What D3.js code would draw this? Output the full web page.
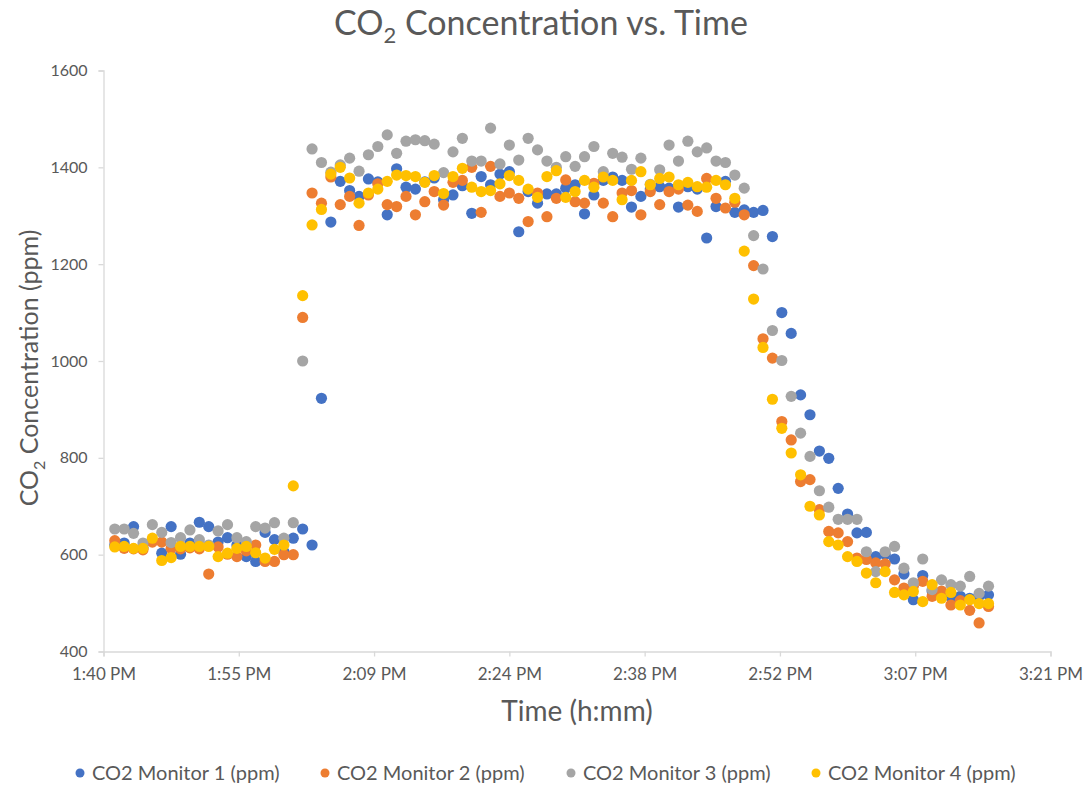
<!DOCTYPE html>
<html>
<head>
<meta charset="utf-8">
<script src="https://cdn.jsdelivr.net/npm/d3@7"></script>
<style>
  html, body { margin: 0; padding: 0; background: #ffffff; }
  svg { display: block; font-family: Lato, "Open Sans", sans-serif; }
</style>
</head>
<body>
<svg id="chart" width="1089" height="789"></svg>
<script>
// Sample clock times (one reading per minute)
const sampleTimes = [
  "13:42","13:43","13:44","13:45","13:46","13:47","13:48","13:49","13:50","13:51",
  "13:52","13:53","13:54","13:55","13:56","13:57","13:58","13:59","14:00","14:01",
  "14:02","14:03","14:04","14:05","14:06","14:07","14:08","14:09","14:10","14:11",
  "14:12","14:13","14:14","14:15","14:16","14:17","14:18","14:19","14:20","14:21",
  "14:22","14:23","14:24","14:25","14:26","14:27","14:28","14:29","14:30","14:31",
  "14:32","14:33","14:34","14:35","14:36","14:37","14:38","14:39","14:40","14:41",
  "14:42","14:43","14:44","14:45","14:46","14:47","14:48","14:49","14:50","14:51",
  "14:52","14:53","14:54","14:55","14:56","14:57","14:58","14:59","15:00","15:01",
  "15:02","15:03","15:04","15:05","15:06","15:07","15:08","15:09","15:10","15:11",
  "15:12","15:13","15:14","15:15"
];

// CO2 readings (ppm) per monitor
const monitor1 = [
  620,624,658,615,628,603,658,601,624,667, 658,626,635,620,596,586,646,631,606,634,
  653,620,923,1287,1371,1352,1340,1376,1370,1302, 1397,1359,1355,1370,1378,1333,1343,1362,1305,1381,
  1364,1386,1391,1267,1350,1326,1345,1345,1357,1364, 1304,1343,1373,1380,1373,1318,1340,1355,1360,1357,
  1318,1360,1355,1254,1319,1371,1307,1312,1307,1311, 1257,1100,1057,930,889,814,799,737,684,645,
  646,596,601,591,560,507,557,525,521,512, 514,510,514,517
];
const monitor2 = [
  629,613,612,610,626,626,613,612,614,612, 560,616,601,596,608,620,586,586,600,600,
  1090,1347,1326,1380,1323,1340,1280,1343,1366,1323, 1319,1340,1302,1329,1350,1322,1369,1373,1400,1307,
  1402,1340,1347,1336,1288,1347,1298,1336,1374,1329, 1326,1367,1326,1298,1347,1352,1302,1350,1323,1350,
  1355,1322,1309,1377,1336,1316,1328,1302,1197,1046, 1006,875,837,751,755,693,648,645,627,593,
  590,583,581,548,531,535,545,514,525,496, 505,485,459,493
];
const monitor3 = [
  653,653,644,624,662,646,625,635,651,631, 620,649,662,635,627,658,655,666,634,666,
  1000,1438,1410,1390,1405,1419,1392,1426,1443,1467, 1429,1454,1457,1455,1448,1389,1432,1460,1413,1413,
  1481,1407,1446,1415,1460,1436,1413,1400,1422,1402, 1422,1443,1391,1429,1421,1396,1419,1365,1395,1446,
  1413,1454,1432,1440,1413,1410,1384,1357,1259,1190, 1063,1001,927,851,803,732,698,673,673,673,
  606,565,606,617,572,542,591,528,548,538, 535,555,520,535
];
const monitor4 = [
  616,617,613,613,634,588,594,617,617,617, 617,596,603,613,617,604,593,611,620,742,
  1135,1281,1313,1386,1400,1378,1326,1347,1355,1371, 1384,1383,1381,1369,1383,1346,1381,1398,1359,1350,
  1352,1366,1383,1373,1355,1338,1381,1393,1338,1350, 1373,1359,1380,1373,1333,1373,1391,1364,1377,1380,
  1364,1369,1360,1359,1373,1364,1336,1227,1128,1028, 921,861,810,765,700,682,627,620,596,586,
  562,542,565,522,517,524,503,538,510,522, 496,507,499,499
];

const seriesNames = ["CO2 Monitor 1 (ppm)", "CO2 Monitor 2 (ppm)", "CO2 Monitor 3 (ppm)", "CO2 Monitor 4 (ppm)"];
const seriesColors = ["#4472C4", "#ED7D31", "#A5A5A5", "#FFC000"];

// Axis ticks: time axis in fractions of a day, every 0.01 day
const xTickValues = [0.57, 0.58, 0.59, 0.60, 0.61, 0.62, 0.63, 0.64];
const xTickLabels = ["1:40 PM", "1:55 PM", "2:09 PM", "2:24 PM", "2:38 PM", "2:52 PM", "3:07 PM", "3:21 PM"];
const yTickValues = [400, 600, 800, 1000, 1200, 1400, 1600];

const toDayFraction = t => {
  const [h, m] = t.split(":").map(Number);
  return (h * 60 + m) / 1440;
};

const svg = d3.select("#chart");
const textColor = "#595959";
const axisColor = "#D9D9D9";

const plot = { left: 103.5, right: 1050.5, top: 70.5, bottom: 651.5 };

const x = d3.scaleLinear().domain([0.57, 0.64]).range([plot.left, plot.right]);
const y = d3.scaleLinear().domain([400, 1600]).range([plot.bottom, plot.top]);

// Y axis
const yAxis = d3.axisLeft(y).tickValues(yTickValues).tickSize(5).tickPadding(11).tickFormat(d3.format("d"));
const gy = svg.append("g").attr("transform", `translate(${plot.left},0)`).call(yAxis);

// X axis
const xAxis = d3.axisBottom(x).tickValues(xTickValues).tickSize(5).tickPadding(11)
  .tickFormat((d, i) => xTickLabels[i]);
const gx = svg.append("g").attr("transform", `translate(0,${plot.bottom})`).call(xAxis);

[gx, gy].forEach(g => {
  g.select(".domain").attr("stroke", axisColor).attr("stroke-width", 1.3);
  g.selectAll(".tick line").attr("stroke", axisColor).attr("stroke-width", 1.3);
  g.selectAll(".tick text").attr("fill", textColor).attr("font-size", 16)
    .attr("font-family", "Lato, sans-serif");
});
gx.selectAll(".tick text").attr("font-size", 17);

// Markers: draw each series in order so later monitors sit on top
const allSeries = [monitor1, monitor2, monitor3, monitor4];
allSeries.forEach((vals, s) => {
  svg.append("g").selectAll("circle")
    .data(vals.map((v, i) => ({ t: toDayFraction(sampleTimes[i]), v })))
    .join("circle")
    .attr("cx", d => x(d.t))
    .attr("cy", d => y(d.v))
    .attr("r", 5.6)
    .attr("fill", seriesColors[s]);
});

// Title with subscript
const title = svg.append("text")
  .attr("x", 541).attr("y", 35)
  .attr("text-anchor", "middle")
  .attr("fill", textColor)
  .attr("font-size", 34);
title.append("tspan").text("CO");
title.append("tspan").text("2").attr("font-size", 22).attr("dy", 8);
title.append("tspan").text(" Concentration vs. Time").attr("dy", -8);

// X axis title
svg.append("text")
  .attr("x", 577).attr("y", 721)
  .attr("text-anchor", "middle")
  .attr("fill", textColor)
  .attr("font-size", 28)
  .text("Time (h:mm)");

// Y axis title (rotated)
const yTitle = svg.append("text")
  .attr("transform", "translate(38,368) rotate(-90)")
  .attr("text-anchor", "middle")
  .attr("fill", textColor)
  .attr("font-size", 25);
yTitle.append("tspan").text("CO");
yTitle.append("tspan").text("2").attr("font-size", 16).attr("dy", 7);
yTitle.append("tspan").text(" Concentration (ppm)").attr("dy", -7);

// Legend
const legendX = [80, 325, 571, 816];
const legend = svg.append("g");
seriesNames.forEach((name, i) => {
  const g = legend.append("g").attr("transform", `translate(${legendX[i]},773)`);
  g.append("circle").attr("r", 4.5).attr("fill", seriesColors[i]);
  g.append("text").attr("x", 12).attr("y", 7)
    .attr("fill", textColor).attr("font-size", 20).text(name);
});
</script>
</body>
</html>
